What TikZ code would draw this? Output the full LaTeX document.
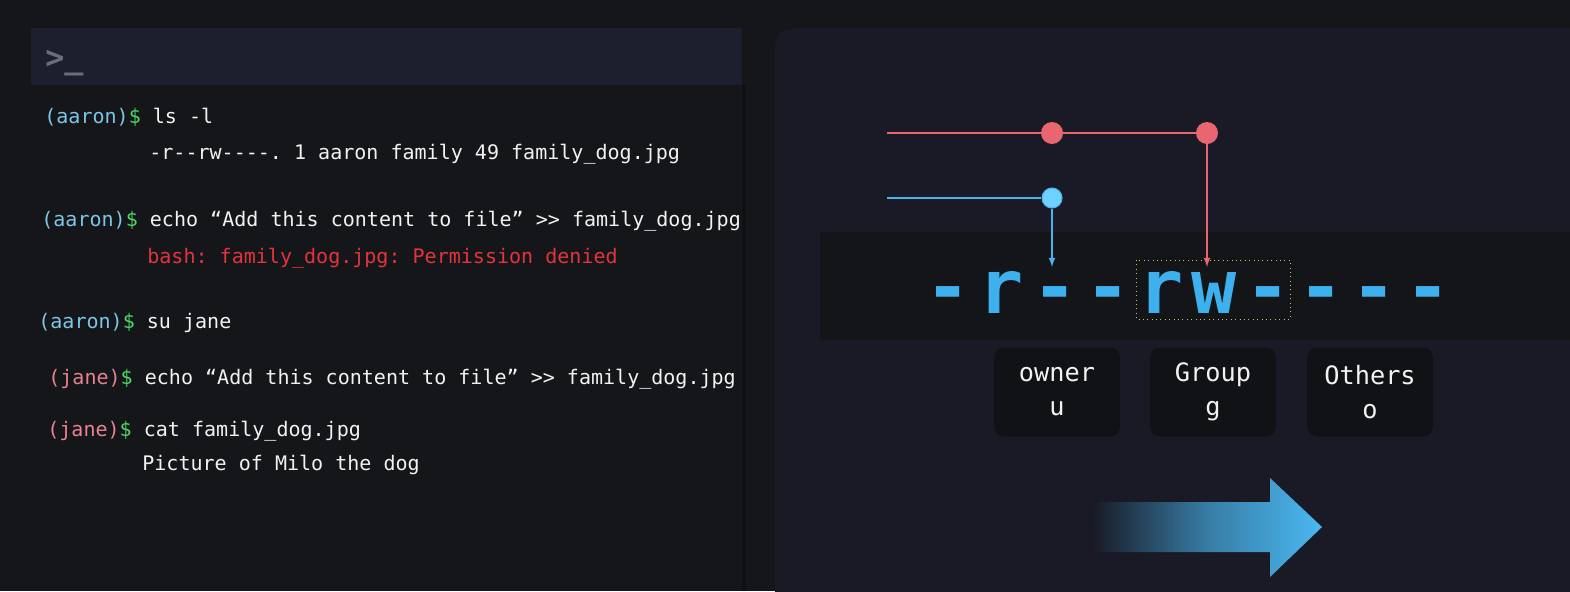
\documentclass[tikz,border=0pt]{standalone}
\usepackage{fontspec}
\setmonofont{DejaVu Sans Mono}
\usetikzlibrary{arrows}

\definecolor{pagebg}{HTML}{15161A}
\definecolor{headbg}{HTML}{1C1F2D}
\definecolor{panelbg}{HTML}{191A26}
\definecolor{bandbg}{HTML}{141519}
\definecolor{boxbg}{HTML}{111216}
\definecolor{splitcol}{HTML}{0F1013}
\definecolor{aaroncol}{HTML}{7CC6E6}
\definecolor{janecol}{HTML}{E7838F}
\definecolor{dollarcol}{HTML}{4CD964}
\definecolor{cmdcol}{HTML}{F2F2F2}
\definecolor{errcol}{HTML}{E2343C}
\definecolor{cursorcol}{HTML}{6B6E7A}
\definecolor{permblue}{HTML}{3DB1EE}
\definecolor{linered}{HTML}{E9656F}
\definecolor{lineblue}{HTML}{4AB3E8}
\definecolor{dotblue}{HTML}{70D0FF}
\definecolor{markbox}{HTML}{C9C35A}
\definecolor{arrowblue}{HTML}{4AB9F2}

\newcommand{\aaronps}{\textcolor{aaroncol}{(aaron)}\textcolor{dollarcol}{\$}}
\newcommand{\janeps}{\textcolor{janecol}{(jane)}\textcolor{dollarcol}{\$}}

\begin{document}
\begin{tikzpicture}[x=0.2mm, y=-0.2mm,
    term/.style={anchor=base west, inner sep=0pt, text=cmdcol, font=\ttfamily\fontsize{11.4}{14}\selectfont},
    perm/.style={anchor=base, inner sep=0pt, text=permblue, font=\ttfamily\bfseries\fontsize{42.7}{50}\selectfont},
    who/.style={rounded corners=2mm, fill=boxbg, minimum width=25.2mm, minimum height=17.8mm,
        align=center, text=cmdcol, font=\ttfamily\fontsize{14.4}{19.4}\selectfont},
    reddot/.style={circle, fill=linered, minimum size=4.4mm, inner sep=0pt},
    bluedot/.style={circle, fill=dotblue, draw=lineblue, line width=0.6pt, minimum size=4mm, inner sep=0pt},
    redline/.style={linered, line width=1.1pt},
    blueline/.style={lineblue, line width=1.1pt}]
    \useasboundingbox (0,0) rectangle (1570,591);

    % backgrounds
    \fill[pagebg] (0,0) rectangle (1570,591);
    \fill[headbg] (31,28) rectangle (742,85);
    \fill[splitcol] (742,85) rectangle (746,591);
    \fill[panelbg, rounded corners=10pt] (775,28) rectangle (1600,620);
    \fill[bandbg] (820,232) rectangle (1570,340);

    % terminal
    \node[anchor=west, inner sep=0pt, text=cursorcol, font=\ttfamily\bfseries\fontsize{18}{20}\selectfont] (cursor) at (45,63) {>\_};
    \node[term] (l1) at (44,123) {\aaronps{} ls -l};
    \node[term] (l2) at (149,159) {-r--rw----. 1 aaron family 49 family\_dog.jpg};
    \node[term] (l3) at (41,226) {\aaronps{} echo “Add this content to file” >> family\_dog.jpg};
    \node[term, text=errcol] (l4) at (147,263) {bash: family\_dog.jpg: Permission denied};
    \node[term] (l5) at (38,328) {\aaronps{} su jane};
    \node[term] (l6) at (48,384) {\janeps{} echo “Add this content to file” >> family\_dog.jpg};
    \node[term] (l7) at (47,436) {\janeps{} cat family\_dog.jpg};
    \node[term] (l8) at (142,470) {Picture of Milo the dog};

    % permission string
    \foreach \c [count=\i from 0] in {-,r,-,-,r,w,-,-,-,-}
        \node[perm] (p\i) at (948+53.3*\i,313) {\c};
    \draw[markbox, dotted, line width=0.5pt] (1136,260) rectangle (1290,319);

    % group bits
    \coordinate (rstart) at (887,133);
    \node[reddot] (rd1) at (1052,133) {};
    \node[reddot] (rd2) at (1207,133) {};
    \coordinate (rtip) at (1207,267);
    \draw[redline] (rstart) -- (rd1) -- (rd2);
    \draw[redline, line width=0.8pt, ->, >=latex] (rd2) -- (rtip);

    % owner bit
    \coordinate (bstart) at (887,198);
    \node[bluedot] (bd) at (1052,198) {};
    \coordinate (btip) at (1052,267);
    \draw[blueline] (bstart) -- (bd);
    \draw[blueline, line width=0.8pt, ->, >=latex] (bd) -- (btip);

    % classes
    \node[who] (owner) at (1057,392) {owner\\u};
    \node[who] (group) at (1213,392) {Group\\g};
    \node[who] (others) at (1370,392) {Others\\o};

    \shade[left color=panelbg, right color=arrowblue, middle color=arrowblue!62!panelbg]
        (1093,502) -- (1270,502) -- (1270,478) -- (1322,527) -- (1270,577) -- (1270,552) -- (1093,552) -- cycle;
\end{tikzpicture}
\end{document}
